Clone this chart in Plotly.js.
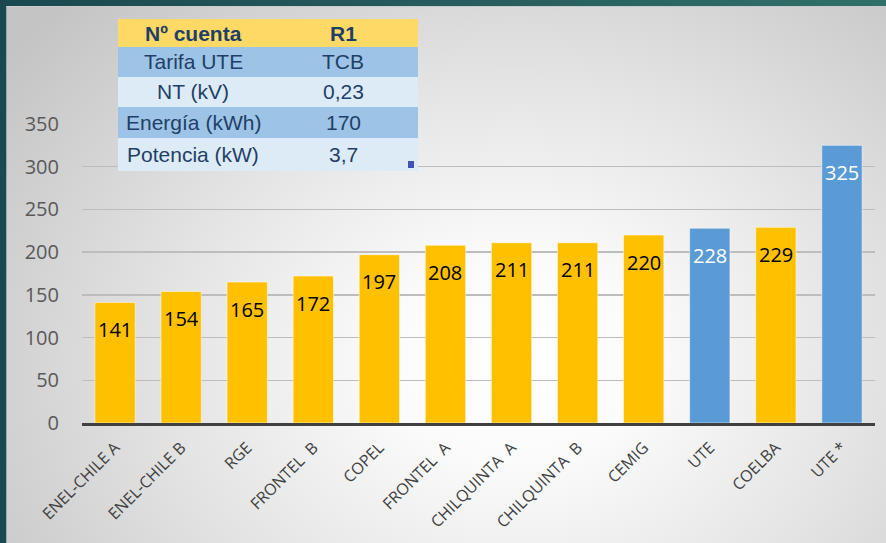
<!DOCTYPE html>
<html>
<head>
<meta charset="utf-8">
<script src="https://cdn.plot.ly/plotly-3.0.1.min.js"></script>
<style>
  html, body { margin:0; padding:0; width:886px; height:543px; overflow:hidden; }
  body { background: linear-gradient(90deg, #1a4850 0%, #2a5f60 60%, #30706a 100%); position:relative; }
  #bg { position:absolute; left:6px; top:6px; right:0; bottom:0;
        background: radial-gradient(ellipse 72% 95% at 58% 66%, #ffffff 0%, #fbfbfb 20%, #e4e4e4 55%, #c4c4c4 100%);
        border-left:1px solid #9aa; border-top:1px solid #c8cccc; }
  #chart { position:absolute; left:0; top:0; width:886px; height:543px; }
</style>
</head>
<body>
<div id="bg"></div>
<div id="chart"></div>
<script>
// ---- data ----
const categories = ['ENEL-CHILE A','ENEL-CHILE B','RGE','FRONTEL  B','COPEL','FRONTEL  A','CHILQUINTA  A','CHILQUINTA  B','CEMIG','UTE','COELBA','UTE *'];
const values = [141,154,165,172,197,208,211,211,220,228,229,325];
const highlighted = ['UTE','UTE *'];
const yTicks = [0,50,100,150,200,250,300,350];

const tableHeader = ['Nº cuenta','R1'];
const tableLabels = ['Tarifa UTE','NT (kV)','Energía (kWh)','Potencia (kW)'];
const tableValues = ['TCB','0,23','170','3,7'];

// ---- styles / geometry ----
const gold = '#FFC000', blue = '#5B9BD5';
const barColors = categories.map(c => highlighted.includes(c) ? blue : gold);
const labelColors = categories.map(c => highlighted.includes(c) ? '#ffffff' : '#000000');

const W = 886, H = 543;
const mL = 82, mR = 11, mT = 0, mB = 120;
const plotW = W - mL - mR, plotH = H - mT - mB;
const axisTop = 124;
const yDomTop = (H - mB - axisTop) / plotH;
const px = x => (x - mL) / plotW;            // pixel x -> paper x
const py = y => (H - mB - y) / plotH;         // pixel y -> paper y

const bars = {
  type:'bar', x:categories, y:values,
  marker:{color:barColors, line:{color:'rgba(255,255,255,0.5)', width:1}},
  hoverinfo:'none', showlegend:false
};

const annotations = categories.map((c,i)=>({
  x:c, y:values[i], xref:'x', yref:'y', text:String(values[i]), showarrow:false,
  yshift:-27, yanchor:'middle', xanchor:'center',
  font:{family:'Open Sans, sans-serif', size:20, color:labelColors[i]}
}));

// table drawn with shapes + annotations
const tblX0 = 118, tblX1 = 418, colC = [193, 343];
const rowEdges = [19, 47, 77, 107, 138, 171];
const rowFills = ['#FFD966','#9DC3E6','#DDEBF7','#9DC3E6','#DDEBF7'];
const shapes = [];
const rows = [tableHeader].concat(tableLabels.map((l,i)=>[l, tableValues[i]]));
rows.forEach((r,i)=>{
  shapes.push({type:'rect', xref:'paper', yref:'paper', x0:px(tblX0), x1:px(tblX1),
    y0:py(rowEdges[i+1]), y1:py(rowEdges[i]), fillcolor:rowFills[i], line:{width:0}, layer:'above'});
  r.forEach((t,j)=>{
    annotations.push({xref:'paper', yref:'paper', x:px(colC[j]), y:py((rowEdges[i]+rowEdges[i+1])/2),
      text: i===0 ? '<b>'+t+'</b>' : t, showarrow:false, xanchor:'center', yanchor:'middle',
      font:{family:'Liberation Sans, Arial, sans-serif', size:21, color:'#1F3F66'}});
  });
});
shapes.push({type:'rect', xref:'paper', yref:'paper', x0:px(408), x1:px(414), y0:py(168), y1:py(161),
  fillcolor:'#3F51B5', line:{width:0}, layer:'above'});

const layout = {
  width:W, height:H,
  margin:{l:mL, r:mR, t:mT, b:mB},
  paper_bgcolor:'rgba(0,0,0,0)', plot_bgcolor:'rgba(0,0,0,0)',
  bargap:0.39,
  xaxis:{type:'category', tickangle:-45, showgrid:false, showline:true, linecolor:'#404040', linewidth:3,
         tickfont:{family:'Open Sans, sans-serif', size:16, color:'#404040'}, ticks:'', ticklabelstandoff:6,
         fixedrange:true},
  yaxis:{domain:[0,yDomTop], range:[0,350], tickvals:yTicks, showgrid:true, gridcolor:'#bdbdbd', gridwidth:1.5,
         zeroline:false, showline:false, ticks:'', ticklabelstandoff:22,
         tickfont:{family:'Open Sans, sans-serif', size:20, color:'#595959'}, fixedrange:true},
  annotations:annotations,
  shapes:shapes
};

Plotly.newPlot('chart',[bars], layout, {displayModeBar:false, staticPlot:true});
</script>
</body>
</html>
